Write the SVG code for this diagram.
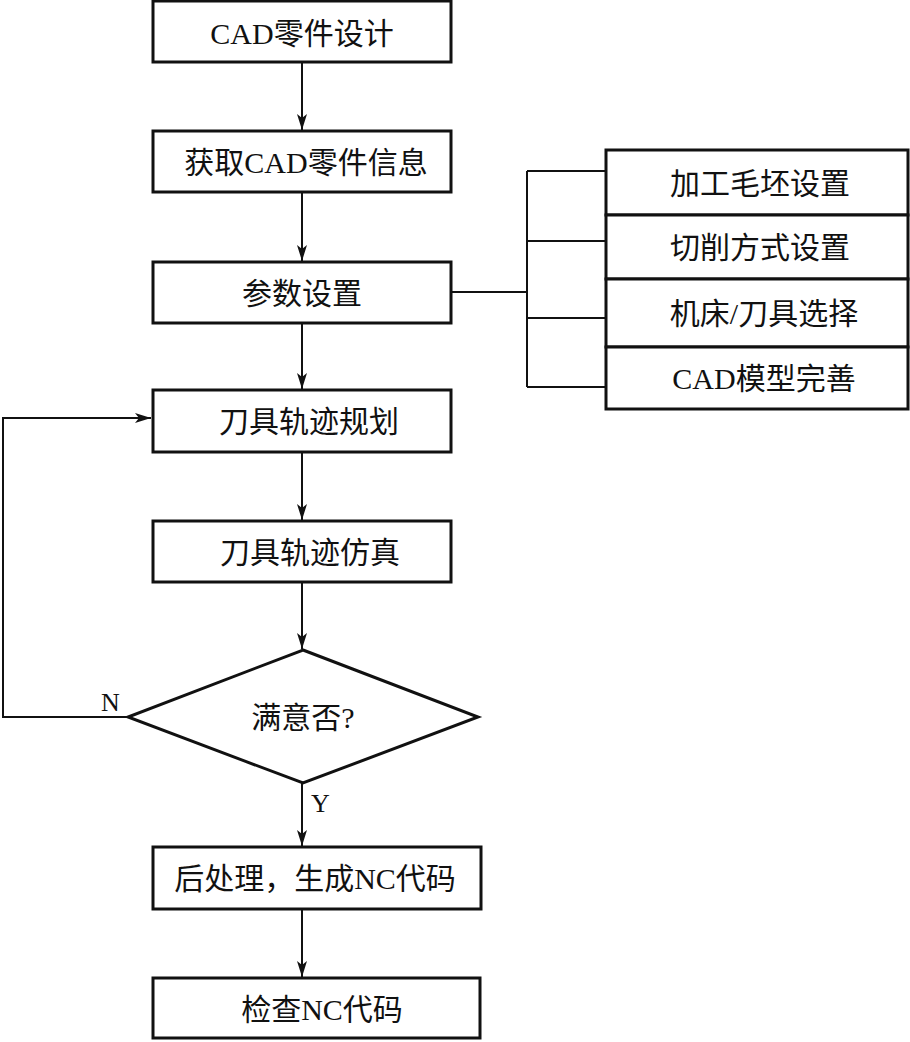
<svg xmlns="http://www.w3.org/2000/svg" width="910" height="1042" viewBox="0 0 910 1042">
<style>
.box{fill:#fff;stroke:#111;stroke-width:3}
.t{font-family:"Liberation Serif","Noto Sans CJK SC",serif;font-size:30px;fill:#111;text-anchor:middle;dominant-baseline:central}
.l{font-family:"Liberation Serif",serif;font-size:26px;fill:#111}
.c{fill:none;stroke:#111;stroke-width:2}
</style>
<defs>
<marker id="ah" viewBox="0 0 16 10" refX="16" refY="5" markerWidth="16" markerHeight="10" markerUnits="userSpaceOnUse" orient="auto">
<path d="M0,0 L16,5 L0,10 L4,5 Z" fill="#111"/>
</marker>
</defs>
<rect width="910" height="1042" fill="#fff"/>
<g id="connectors">
<line class="c" x1="302" y1="62" x2="302" y2="130" marker-end="url(#ah)"/>
<line class="c" x1="302" y1="192" x2="302" y2="261" marker-end="url(#ah)"/>
<line class="c" x1="302" y1="323" x2="302" y2="389" marker-end="url(#ah)"/>
<line class="c" x1="302" y1="452" x2="302" y2="520" marker-end="url(#ah)"/>
<line class="c" x1="302" y1="582" x2="302" y2="649" marker-end="url(#ah)"/>
<line class="c" x1="302" y1="783" x2="302" y2="846" marker-end="url(#ah)"/>
<line class="c" x1="302" y1="909" x2="302" y2="977" marker-end="url(#ah)"/>
<polyline class="c" points="129,717 3,717 3,418 151,418" marker-end="url(#ah)"/>
<line class="c" x1="452" y1="292" x2="527" y2="292"/>
<line class="c" x1="527" y1="171" x2="527" y2="387"/>
<line class="c" x1="527" y1="171" x2="606" y2="171"/>
<line class="c" x1="527" y1="241" x2="606" y2="241"/>
<line class="c" x1="527" y1="318" x2="606" y2="318"/>
<line class="c" x1="527" y1="387" x2="606" y2="387"/>
<text class="l" x="101" y="711">N</text>
<text class="l" x="311" y="812">Y</text>
</g>
<g id="n1"><rect class="box" x="153" y="1" width="298" height="61"/><text class="t" x="302" y="33">CAD零件设计</text></g>
<g id="n2"><rect class="box" x="153" y="131" width="298" height="61"/><text class="t" x="306" y="162">获取CAD零件信息</text></g>
<g id="n3"><rect class="box" x="153" y="262" width="298" height="61"/><text class="t" x="302" y="293">参数设置</text></g>
<g id="n4"><rect class="box" x="153" y="390" width="298" height="62"/><text class="t" x="309" y="421">刀具轨迹规划</text></g>
<g id="n5"><rect class="box" x="153" y="521" width="298" height="61"/><text class="t" x="310" y="552">刀具轨迹仿真</text></g>
<g id="n6"><polygon class="box" points="303,650 478,717 303,783 128,717"/><text class="t" x="303" y="717">满意否?</text></g>
<g id="n7"><rect class="box" x="153" y="847" width="328" height="62"/><text class="t" x="315" y="878">后处理，生成NC代码</text></g>
<g id="n8"><rect class="box" x="153" y="978" width="327" height="60"/><text class="t" x="322" y="1009">检查NC代码</text></g>
<g id="n9"><rect class="box" x="606" y="150" width="302" height="65"/><text class="t" x="760" y="183">加工毛坯设置</text></g>
<g id="n10"><rect class="box" x="606" y="215" width="302" height="64"/><text class="t" x="760" y="247">切削方式设置</text></g>
<g id="n11"><rect class="box" x="606" y="279" width="302" height="68"/><text class="t" x="764" y="313">机床/刀具选择</text></g>
<g id="n12"><rect class="box" x="606" y="347" width="302" height="62"/><text class="t" x="764" y="378">CAD模型完善</text></g>
</svg>
